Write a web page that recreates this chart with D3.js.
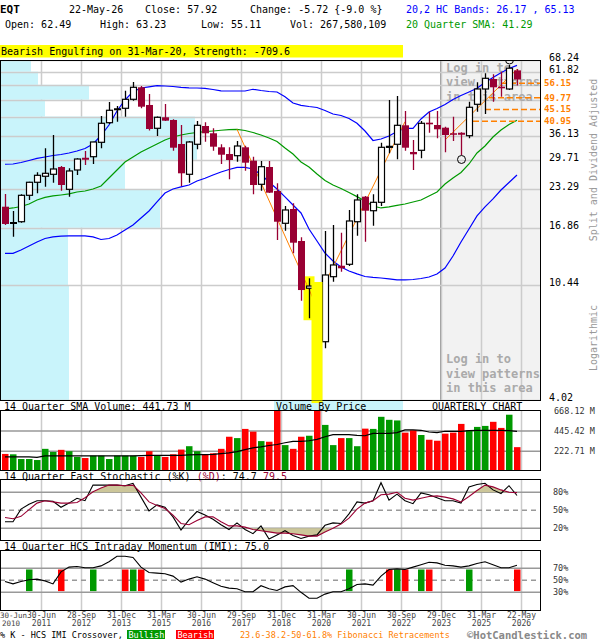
<!DOCTYPE html>
<html>
<head>
<meta charset="utf-8">
<script src="https://cdn.jsdelivr.net/npm/d3@7"></script>
<style>
body { margin: 0; background: #fff; }
text { font-family: "DejaVu Sans Mono", monospace; }
</style>
</head>
<body>
<div id="chart"></div>
<script>
// quarterly candles, 2010 Q2 .. 2026 Q2
var quarters = ["2010Q2","2010Q3","2010Q4",
  "2011Q1","2011Q2","2011Q3","2011Q4","2012Q1","2012Q2","2012Q3","2012Q4",
  "2013Q1","2013Q2","2013Q3","2013Q4","2014Q1","2014Q2","2014Q3","2014Q4",
  "2015Q1","2015Q2","2015Q3","2015Q4","2016Q1","2016Q2","2016Q3","2016Q4",
  "2017Q1","2017Q2","2017Q3","2017Q4","2018Q1","2018Q2","2018Q3","2018Q4",
  "2019Q1","2019Q2","2019Q3","2019Q4","2020Q1","2020Q2","2020Q3","2020Q4",
  "2021Q1","2021Q2","2021Q3","2021Q4","2022Q1","2022Q2","2022Q3","2022Q4",
  "2023Q1","2023Q2","2023Q3","2023Q4","2024Q1","2024Q2","2024Q3","2024Q4",
  "2025Q1","2025Q2","2025Q3","2025Q4","2026Q1","2026Q2"];

var open = [20.09,17.55,17.73,22.09,24.62,25.88,26.31,27.96,23.22,27.27,
  29.95,30.46,34.34,40.43,45.20,45.58,49.12,54.28,46.85,38.59,
  42.29,41.35,33.86,26.31,33.78,39.33,37.02,32.94,31.15,30.72,
  32.94,29.47,24.21,27.96,22.90,17.50,19.71,15.10,10.19,10.48,
  6.53,11.22,12.29,12.44,17.73,21.84,19.43,20.84,33.00,33.78,
  39.56,31.68,32.13,40.43,39.66,38.78,37.02,36.90,36.28,47.12,
  53.52,58.16,54.55,53.52,62.49];
var high = [22.33,19.38,22.28,24.74,26.75,32.67,36.49,28.19,27.66,30.06,
  31.94,34.51,42.74,48.03,46.46,52.76,56.73,54.87,51.34,42.60,
  47.24,41.59,39.66,34.71,41.00,40.57,38.59,33.78,32.94,34.71,
  33.40,30.46,29.39,29.39,24.41,20.21,20.67,15.57,11.07,10.56,
  16.41,17.25,16.18,19.55,22.28,21.96,22.28,34.23,48.83,50.49,
  44.57,35.00,41.00,44.30,44.57,39.11,42.50,37.32,48.15,56.59,
  61.00,60.49,61.81,65.35,63.23];
var low = [17.25,15.65,17.59,21.25,22.46,23.73,24.53,22.95,21.84,26.16,
  28.43,28.67,32.67,39.99,40.77,42.50,48.55,45.58,37.89,36.19,
  41.00,32.02,23.87,24.53,32.40,34.51,32.02,28.67,25.24,29.22,
  27.11,22.28,22.95,22.50,15.23,16.45,13.63,9.19,7.94,3.60,
  6.18,10.76,11.70,12.26,15.78,15.01,17.15,20.21,31.34,29.81,
  32.02,27.27,30.06,37.20,35.51,31.60,34.71,30.90,35.51,44.30,
  43.46,48.15,50.20,53.10,55.11];
var close = [17.40,17.60,22.09,24.62,26.09,26.53,27.50,24.07,27.05,29.88,
  29.85,34.43,40.23,44.83,45.40,49.12,54.28,46.19,38.36,42.29,
  41.11,32.83,26.53,34.43,39.56,37.02,33.11,30.97,29.64,33.30,
  28.98,24.07,28.03,22.58,17.73,19.55,14.89,10.04,10.38,6.77,
  11.38,12.37,12.03,17.84,21.25,19.43,20.84,32.94,33.20,39.56,
  32.83,31.08,40.23,39.89,38.27,36.49,36.71,36.71,45.96,53.52,
  58.50,54.28,53.83,63.64,57.92];

// 20 quarter SMA and 20,2 HC bands
var sma20 = [19.71,19.88,20.13,20.55,21.25,21.70,21.97,22.15,22.34,22.71,
  22.90,23.28,23.87,25.51,27.27,29.15,30.39,31.68,32.75,33.86,
  35.00,35.88,36.49,36.95,37.26,37.51,37.73,37.96,38.15,38.27,
  37.89,37.26,36.49,35.59,34.56,32.75,31.16,29.15,27.96,26.38,
  24.98,24.07,23.38,22.61,21.85,21.07,20.21,19.88,20.05,20.30,
  20.55,20.90,21.25,21.97,22.71,24.27,25.51,26.71,28.67,31.42,
  33.30,35.88,38.05,39.82,41.29];
var bandUpper = [28.60,28.67,29.03,29.52,30.02,30.39,30.77,31.03,31.42,31.95,
  32.62,33.86,36.34,39.66,44.57,48.83,52.34,53.97,54.51,55.01,
  54.87,54.65,54.28,54.06,53.97,53.83,53.30,52.73,52.64,52.64,
  52.64,53.39,52.86,52.42,52.20,50.20,47.64,46.73,46.27,45.89,
  44.75,43.47,42.93,41.87,40.22,37.73,34.86,35.29,36.19,37.58,
  38.59,38.59,41.70,44.20,45.51,47.04,49.03,50.70,52.20,53.83,
  56.51,58.89,61.29,63.48,65.13];
var bandLower = [13.63,13.63,14.01,14.49,14.98,15.42,15.62,15.72,15.75,15.75,
  15.75,15.62,15.29,15.42,15.88,16.55,17.25,18.29,19.39,20.90,
  22.52,23.28,23.68,24.07,24.88,25.45,26.16,26.82,27.38,27.85,
  27.85,27.50,26.27,24.68,23.28,21.79,20.38,19.07,16.69,15.10,
  13.66,12.79,12.16,11.76,11.48,11.24,11.15,11.10,11.01,10.92,
  10.92,10.96,11.05,11.19,11.48,12.06,13.33,14.98,16.69,18.60,
  20.05,21.43,23.09,24.58,26.17];

// volume, millions of shares
var volume = [193,189,137,137,126,249,215,238,223,160,
  148,174,174,137,174,174,174,160,223,174,
  160,189,241,278,223,186,200,249,382,367,
  468,438,334,327,720,290,249,382,393,700,
  512,290,367,367,278,471,468,601,568,561,
  427,453,401,349,338,416,427,523,453,490,
  501,546,479,624,267.58];
var volumeSma = [160,160,160,160,156,171,171,171,171,171,
  171,171,171,171,171,171,171,174,178,178,
  178,178,178,182,186,186,189,197,204,219,
  241,260,271,286,297,316,330,330,338,353,
  382,405,405,405,397,393,419,419,419,427,
  457,457,453,434,427,442,442,442,449,453,
  453,453,453,449,441.73];

// 14 quarter fast stochastic
var stochK = [31,31,52,60,66,66,65,55,62,70,
  66,92,92,92,92,91,95,72,49,59,
  55,39,17,34,48,42,35,26,18,29,
  18,11,24,2,9,16,8,3,7,9,
  25,29,28,44,64,62,66,96,67,77,
  66,61,79,76,71,66,66,62,89,93,
  95,84,78,91,74.7];
var stochD = [38,36,40,51,62,66,64,62,62,63,
  71,81,87,92,92,91,92,79,64,58,
  53,42,28,26,33,39,39,31,24,24,
  22,18,16,14,12,12,11,9,7,7,
  14,20,27,37,52,62,66,76,77,80,
  70,67,70,73,74,72,69,64,73,83,
  92,89,84,80,79.5];

// 14 quarter HCS intraday momentum
var imi = [48,44,48,51,52,49,44,64,72,73,
  71,71,74,81,90,90,88,72,63,62,
  61,57,47,52,56,52,46,40,37,36,
  31,31,41,36,33,39,41,30,20,20,
  27,31,31,36,43,44,42,57,68,69,
  68,72,76,80,79,75,74,72,74,78,
  81,76,71,71,75.0];
var imiBullish = [3,11,16,43,49,52,58];
var imiBearish = [7,15,17,48,50,53,64];

// volume by price, per price band (millions of shares)
var priceGrid = [4.02,10.44,16.86,23.29,29.71,36.13,42.55,48.97,55.40,61.82,68.24];
var priceLabels = [4.02,10.44,16.86,23.29,29.71,36.13,61.82,68.24];
var vbpVolume = [1700,1675,3975,3100,4900,4850,1100,2200,925,750];

// fibonacci retracements and trend lines
var fibLevels = [56.15,49.77,45.15,40.95];
var fibStart = [62,60.5,60,58.5];
var trendFromIdx = [29,40,55];
var trendFromPrice = [38.27,10.62,35.00];
var trendToIdx = [39,50,64];
var trendToPrice = [8.70,40.77,63.05];
var swingHighIdx = [63];
var swingLowIdx = [57];
var engulfIdx = [38,39];

// x axis
var tickIdx = [0,4,9,14,19,24,29,34,39,44,49,54,59,64];
var tickDay = ["30-Jun","30-Jun","28-Sep","31-Dec","31-Mar","30-Jun","29-Sep",
  "31-Dec","31-Mar","30-Jun","30-Sep","29-Dec","31-Mar","22-May"];
var tickYear = ["2010","2011","2012","2013","2015","2016","2017",
  "2018","2020","2021","2022","2023","2025","2026"];

var volTicks = [222.71,445.42,668.12];
var stochTicks = [20,50,80];
var imiTicks = [30,50,70];

var W = 600, H = 640;
var red = "#990033", orange = "#ff8000", cyan = "#c9f4fb";
var L = 0.5, R = 540.5;

var svg = d3.select("#chart").append("svg")
  .attr("width", W)
  .attr("height", H);
svg.append("rect").attr("width", W).attr("height", H).attr("fill", "#fff");

var defs = svg.append("defs");
function clip(id, y0, y1) {
  defs.append("clipPath").attr("id", id).append("rect")
    .attr("x", L).attr("y", y0).attr("width", R - L).attr("height", y1 - y0);
}
clip("cMain", 60.5, 400.5);
clip("cVol", 410.5, 470.5);
clip("cSto", 479.5, 540.5);
clip("cImi", 550.5, 610.5);

var x = d3.scaleLinear().domain([0, quarters.length - 1]).range([5, 517]);
var y = d3.scaleLog().domain([4.02, 68.24]).range([400, 59.8]);
var yv = d3.scaleLinear().domain([0, 668.12]).range([471.5, 410.7]);
var ys = d3.scaleLinear().domain([0, 100]).range([540.3, 480.3]);
var yi = d3.scaleLinear().domain([0, 100]).range([610.3, 550.3]);
var vbpX = d3.scaleLinear().domain([0, d3.max(vbpVolume)]).range([0, 196]);
var gx = function(i) { return Math.round(x(i) + 4) + 0.5; };

function label(g, px, py, s, size, fill, weight) {
  return g.append("text").attr("x", px).attr("y", py).text(s)
    .attr("font-size", size + "px")
    .attr("fill", fill || "#000")
    .attr("font-weight", weight || "normal");
}

// ---------- header ----------
var hd = svg.append("g");
label(hd, 0, 13, "EQT", 11, "#000", "bold");
label(hd, 69, 13, "22-May-26", 10);
label(hd, 145, 13, "Close: 57.92", 10);
label(hd, 250, 13, "Change: -5.72 {-9.0 %}", 10);
label(hd, 406, 13, "20,2 HC Bands: 26.17 , 65.13", 10, "#0000ff");
label(hd, 5, 28, "Open: 62.49", 10);
label(hd, 100, 28, "High: 63.23", 10);
label(hd, 201, 28, "Low: 55.11", 10);
label(hd, 290, 28, "Vol: 267,580,109", 10);
label(hd, 406, 28, "20 Quarter SMA: 41.29", 10, "#009900");
hd.append("rect").attr("x", 0).attr("y", 45).attr("width", 403).attr("height", 12.5).attr("fill", "#ffff00");
label(hd, 1, 54.5, "Bearish Engulfing on 31-Mar-20, Strength: -709.6", 10);

// ---------- main price panel ----------
var main = svg.append("g").attr("clip-path", "url(#cMain)");
main.append("rect").attr("x", 440.5).attr("y", 60).attr("width", 100).attr("height", 341)
  .attr("fill", "#f2f2f2").attr("stroke", "#999").attr("stroke-width", 1);

main.selectAll(".vg").data(tickIdx.slice(1)).enter().append("line")
  .attr("x1", gx).attr("x2", gx).attr("y1", 60).attr("y2", 401)
  .attr("stroke", "#ccc").attr("stroke-width", 1.5);

// volume by price
main.selectAll(".vbp").data(vbpVolume).enter().append("rect")
  .attr("x", 1)
  .attr("y", function(d, i) { return y(priceGrid[i + 1]); })
  .attr("width", function(d) { return vbpX(d); })
  .attr("height", function(d, i) { return y(priceGrid[i]) - y(priceGrid[i + 1]); })
  .attr("fill", cyan);

main.selectAll(".hg").data(priceGrid).enter().append("line")
  .attr("x1", 0).attr("x2", R)
  .attr("y1", function(d) { return Math.round(y(d)) + 0.5; })
  .attr("y2", function(d) { return Math.round(y(d)) + 0.5; })
  .attr("stroke", "#ccc").attr("stroke-width", 1.5);

// login notice
["Log in to", "view patterns", "in this area"].forEach(function(s, k) {
  label(main, 446, 71.5 + k * 14.7, s, 12, "#aaa", "bold");
  label(main, 446, 363 + k * 14.7, s, 12, "#aaa", "bold");
});

// engulfing highlight
main.append("rect").attr("x", x(engulfIdx[0]) - 5.5).attr("width", 11)
  .attr("y", y(high[engulfIdx[0]]) - 2)
  .attr("height", y(low[engulfIdx[0]]) - y(high[engulfIdx[0]]) + 4)
  .attr("fill", "#ffff00");
svg.append("rect").attr("x", x(engulfIdx[1]) - 5.5).attr("width", 11)
  .attr("y", y(high[engulfIdx[1]]) - 2)
  .attr("height", 403 - y(high[engulfIdx[1]]) + 2)
  .attr("fill", "#ffff00");

// bands and sma
function pLine(vals, col) {
  main.append("path").datum(vals)
    .attr("d", d3.line().x(function(d, i) { return x(i); }).y(function(d) { return y(d); }))
    .attr("fill", "none").attr("stroke", col).attr("stroke-width", 1.2);
}
pLine(bandUpper, "#0000ff");
pLine(bandLower, "#0000ff");
pLine(sma20, "#009900");

// fibonacci
fibLevels.forEach(function(v, k) {
  main.append("line").attr("x1", x(fibStart[k])).attr("x2", R)
    .attr("y1", y(v)).attr("y2", y(v))
    .attr("stroke", orange).attr("stroke-width", 1.5).attr("stroke-dasharray", "6,3");
});
trendFromIdx.forEach(function(d, k) {
  main.append("line")
    .attr("x1", x(d)).attr("y1", y(trendFromPrice[k]))
    .attr("x2", x(trendToIdx[k])).attr("y2", y(trendToPrice[k]))
    .attr("stroke", orange).attr("stroke-width", 1);
});

// candles
var cg = main.append("g");
quarters.forEach(function(q, i) {
  var o = open[i], c = close[i];
  var cx = x(i);
  var up = c >= o;
  var col = up ? "#000" : red;
  cg.append("line").attr("x1", cx + 0.5).attr("x2", cx + 0.5)
    .attr("y1", y(high[i])).attr("y2", y(low[i]))
    .attr("stroke", col).attr("stroke-width", 1.3);
  if (Math.abs(c - o) / o < 0.006) {
    cg.append("line").attr("x1", cx - 3).attr("x2", cx + 4)
      .attr("y1", y(o)).attr("y2", y(o))
      .attr("stroke", col).attr("stroke-width", 2);
  } else if (up) {
    cg.append("rect").attr("x", cx - 2.5).attr("width", 6)
      .attr("y", y(c)).attr("height", Math.max(1, y(o) - y(c)))
      .attr("fill", "#fff").attr("stroke", "#000").attr("stroke-width", 1.2);
  } else {
    cg.append("rect").attr("x", cx - 3).attr("width", 7)
      .attr("y", y(o)).attr("height", Math.max(1.5, y(c) - y(o)))
      .attr("fill", red);
  }
});

swingHighIdx.forEach(function(i) {
  main.append("circle").attr("cx", x(i) + 0.5).attr("cy", y(high[i]) - 5).attr("r", 4)
    .attr("fill", "none").attr("stroke", "#000");
});
swingLowIdx.forEach(function(i) {
  main.append("circle").attr("cx", x(i) + 0.5).attr("cy", y(low[i]) + 4.5).attr("r", 4)
    .attr("fill", "none").attr("stroke", "#000");
});

svg.append("rect").attr("x", L).attr("y", 60.5).attr("width", R - L).attr("height", 340)
  .attr("fill", "none").attr("stroke", "#000");

// right price axis
priceLabels.forEach(function(v) {
  label(svg, 549, y(v) + 1, v.toFixed(2), 10);
});
fibLevels.forEach(function(v) {
  label(svg, 544, y(v) + 3, v.toFixed(2), 9, orange, "bold");
});
svg.append("text").attr("transform", "translate(597,160) rotate(-90)")
  .attr("text-anchor", "middle").attr("font-size", "10px").attr("fill", "#999")
  .text("Split and Dividend Adjusted");
svg.append("text").attr("transform", "translate(597,338) rotate(-90)")
  .attr("text-anchor", "middle").attr("font-size", "10px").attr("fill", "#999")
  .text("Logarithmic");

// ---------- volume panel ----------
svg.append("rect").attr("x", 274).attr("y", 401).attr("width", 129).attr("height", 9.5).attr("fill", cyan);
svg.append("rect").attr("x", x(engulfIdx[1]) - 5.5).attr("width", 11).attr("y", 400.5).attr("height", 2.5).attr("fill", "#ffff00");
label(svg, 4, 410, "14 Quarter SMA Volume: 441.73 M", 10);
label(svg, 276, 410, "Volume By Price", 10);
label(svg, 432, 410, "QUARTERLY CHART", 10);

var vol = svg.append("g").attr("clip-path", "url(#cVol)");
vol.selectAll(".vg").data(tickIdx.slice(1)).enter().append("line")
  .attr("x1", gx).attr("x2", gx).attr("y1", 410).attr("y2", 471)
  .attr("stroke", "#ccc").attr("stroke-width", 1.5);
vol.selectAll(".hg").data(volTicks.slice(0, 2)).enter().append("line")
  .attr("x1", 0).attr("x2", R)
  .attr("y1", function(d) { return yv(d); }).attr("y2", function(d) { return yv(d); })
  .attr("stroke", "#999").attr("stroke-width", 1.5);
vol.selectAll(".vb").data(volume).enter().append("rect")
  .attr("x", function(d, i) { return x(i) - 3; })
  .attr("width", 6.5)
  .attr("y", function(d) { return yv(d); })
  .attr("height", function(d) { return yv(0) - yv(d); })
  .attr("fill", function(d, i) { return close[i] >= open[i] ? "#009900" : "#ff0000"; });
vol.append("path").datum(volumeSma)
  .attr("d", d3.line().x(function(d, i) { return x(i); }).y(function(d) { return yv(d); }))
  .attr("fill", "none").attr("stroke", "#000").attr("stroke-width", 1.2);
svg.append("rect").attr("x", L).attr("y", 410.5).attr("width", R - L).attr("height", 60)
  .attr("fill", "none").attr("stroke", "#000");
volTicks.forEach(function(v) {
  label(svg, 554, yv(v) + 3, v.toFixed(2) + " M", 8.5, "#333");
});

// ---------- stochastic panel ----------
var st = label(svg, 4, 479.5, "14 Quarter Fast Stochastic (%K) ", 10);
st.append("tspan").attr("fill", red).text("(%D)");
st.append("tspan").text(": 74.7  ");
st.append("tspan").attr("fill", red).text("79.5");

var sto = svg.append("g").attr("clip-path", "url(#cSto)");
function oscGrid(g, yy, ticks, y0, y1) {
  g.selectAll(".vg").data(tickIdx.slice(1)).enter().append("line")
    .attr("x1", gx).attr("x2", gx).attr("y1", y0).attr("y2", y1)
    .attr("stroke", "#ccc").attr("stroke-width", 1.5);
  g.selectAll(".hg").data(ticks).enter().append("line")
    .attr("x1", 0).attr("x2", R)
    .attr("y1", function(d) { return yy(d); }).attr("y2", function(d) { return yy(d); })
    .attr("stroke", "#999").attr("stroke-width", 1.5)
    .attr("stroke-dasharray", function(d) { return d === 50 ? "5,4" : null; });
}
oscGrid(sto, ys, stochTicks, 479, 541);
sto.append("path").datum(stochD)
  .attr("d", d3.area().x(function(d, i) { return x(i); })
    .y0(ys(80)).y1(function(d) { return ys(Math.max(d, 80)); }))
  .attr("fill", "#ccc699");
sto.append("path").datum(stochD)
  .attr("d", d3.area().x(function(d, i) { return x(i); })
    .y0(ys(20)).y1(function(d) { return ys(Math.min(d, 20)); }))
  .attr("fill", "#ccc699");
sto.append("path").datum(stochK)
  .attr("d", d3.line().x(function(d, i) { return x(i); }).y(function(d) { return ys(d); }))
  .attr("fill", "none").attr("stroke", "#000").attr("stroke-width", 1.1);
sto.append("path").datum(stochD)
  .attr("d", d3.line().x(function(d, i) { return x(i); }).y(function(d) { return ys(d); }))
  .attr("fill", "none").attr("stroke", red).attr("stroke-width", 1.1);
svg.append("rect").attr("x", L).attr("y", 479.5).attr("width", R - L).attr("height", 61)
  .attr("fill", "none").attr("stroke", "#000");
stochTicks.forEach(function(v) {
  label(svg, 553, ys(v) + 3, v + "%", 8.5, "#333");
});

// ---------- IMI panel ----------
label(svg, 4, 550, "14 Quarter HCS Intraday Momentum (IMI): 75.0", 10);
var im = svg.append("g").attr("clip-path", "url(#cImi)");
oscGrid(im, yi, imiTicks, 550, 611);
function signals(idx, col) {
  im.selectAll(null).data(idx).enter().append("rect")
    .attr("x", function(i) { return x(i) - 3; })
    .attr("width", 6.5)
    .attr("y", yi(68)).attr("height", yi(32) - yi(68))
    .attr("fill", col);
}
signals(imiBullish, "#009900");
signals(imiBearish, "#ff0000");
im.append("path").datum(imi)
  .attr("d", d3.line().x(function(d, i) { return x(i); }).y(function(d) { return yi(d); }))
  .attr("fill", "none").attr("stroke", "#000").attr("stroke-width", 1.1);
svg.append("rect").attr("x", L).attr("y", 550.5).attr("width", R - L).attr("height", 60)
  .attr("fill", "none").attr("stroke", "#000");
imiTicks.forEach(function(v) {
  label(svg, 553, yi(v) + 3, v + "%", 8.5, "#333");
});

// ---------- date axis ----------
tickIdx.forEach(function(d, k) {
  var first = k === 0;
  var px = first ? 0 : gx(d);
  var anchor = first ? "start" : "middle";
  var fs = first ? 7.5 : 8;
  label(svg, px, 618, tickDay[k], fs, "#444").attr("text-anchor", anchor);
  label(svg, first ? 2 : px, 626, tickYear[k], fs, "#444").attr("text-anchor", anchor);
});

// ---------- legend ----------
label(svg, 0, 638, "% K - HCS IMI Crossover,", 8.5);
svg.append("rect").attr("x", 127).attr("y", 630).attr("width", 38).attr("height", 9).attr("fill", "#009900");
label(svg, 128.5, 638, "Bullish", 8.5, "#fff");
svg.append("rect").attr("x", 176).attr("y", 630).attr("width", 38).attr("height", 9).attr("fill", "#ff0000");
label(svg, 177.5, 638, "Bearish", 8.5, "#fff");
label(svg, 240, 638, "23.6-38.2-50-61.8% Fibonacci Retracements", 8.5, orange);
label(svg, 467, 639, "\u00a9HotCandlestick.com", 10.5, "#888", "bold");
</script>
</body>
</html>
